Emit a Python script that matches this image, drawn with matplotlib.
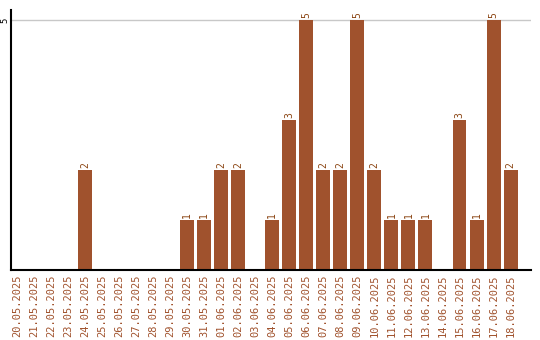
import matplotlib
matplotlib.use("Agg")
import matplotlib.pyplot as plt

dates = ["20.05.2025","21.05.2025","22.05.2025","23.05.2025","24.05.2025","25.05.2025",
         "26.05.2025","27.05.2025","28.05.2025","29.05.2025","30.05.2025","31.05.2025",
         "01.06.2025","02.06.2025","03.06.2025","04.06.2025","05.06.2025","06.06.2025",
         "07.06.2025","08.06.2025","09.06.2025","10.06.2025","11.06.2025","12.06.2025",
         "13.06.2025","14.06.2025","15.06.2025","16.06.2025","17.06.2025","18.06.2025"]
values = [0,0,0,0,2,0,0,0,0,0,1,1,2,2,0,1,3,5,2,2,5,2,1,1,1,0,3,1,5,2]

color = "#A0522D"
fig = plt.figure(figsize=(5.4, 3.4), dpi=100)
ax = fig.add_axes([11/540, 1-270/340, 520/540, 260/340])
x = list(range(len(dates)))
ax.bar(x, values, width=0.82, color=color, zorder=2)
for xi, v in zip(x, values):
    if v > 0:
        ax.text(xi, v + 0.05, str(v), rotation=90, ha="center", va="bottom",
                fontsize=7, color="#8B4513", family="DejaVu Sans Mono")
ax.set_xlim(-0.35, 30.2)
ax.set_ylim(0, 5.2)
ax.set_yticks([5])
ax.set_yticklabels(["5"], rotation=90, fontsize=6.5, family="DejaVu Sans Mono", va="center")
ax.yaxis.grid(True, color="#c8c8c8", linewidth=1, zorder=0)
ax.set_xticks(x)
ax.set_xticklabels(dates, rotation=90, fontsize=7.5, color=color, family="DejaVu Sans Mono")
ax.tick_params(axis="x", length=0, pad=3)
ax.tick_params(axis="y", length=0, pad=1)
for s in ["top", "right"]:
    ax.spines[s].set_visible(False)
for s in ["left", "bottom"]:
    ax.spines[s].set_linewidth(1.5)
    ax.spines[s].set_color("black")
fig.savefig("out.png", dpi=100)
